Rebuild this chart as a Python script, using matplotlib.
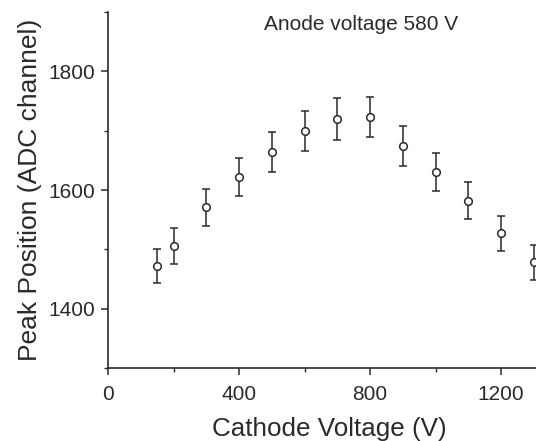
import matplotlib
matplotlib.use("Agg")
import matplotlib.pyplot as plt
from matplotlib.ticker import MultipleLocator

# Peak position vs cathode voltage, anode held at 580 V
cathode_v = [150, 200, 300, 400, 500, 600, 700, 800, 900, 1000, 1100, 1200, 1300]
peak_pos = [1472, 1506, 1571, 1622, 1664, 1699, 1720, 1723, 1674, 1631, 1582, 1527, 1478]
peak_err = [29, 30, 31, 32, 34, 34, 35, 34, 34, 32, 31, 30, 30]

x_ticks = [0, 400, 800, 1200]
y_ticks = [1400, 1600, 1800]

plt.rcParams["font.family"] = ["Liberation Sans", "DejaVu Sans"]
ink = "#2a2a2a"

fig = plt.figure(figsize=(5.36, 4.41), dpi=100)
ax = fig.add_axes([108 / 536, 73 / 441, 458.5 / 536, 356 / 441])

ax.errorbar(cathode_v, peak_pos, yerr=peak_err, fmt="o", ms=5.5, mfc="white",
            mec=ink, mew=1.1, ecolor=ink, elinewidth=1.1, capsize=3, capthick=1.1,
            clip_on=False)

ax.set_xlim(0, 1400)
ax.set_ylim(1300, 1900)
ax.set_xticks(x_ticks)
ax.set_yticks(y_ticks)
ax.xaxis.set_minor_locator(MultipleLocator(200))
ax.yaxis.set_minor_locator(MultipleLocator(100))

for side in ("top", "right"):
    ax.spines[side].set_visible(False)
for side in ("left", "bottom"):
    ax.spines[side].set_color(ink)
    ax.spines[side].set_linewidth(1.2)

ax.tick_params(which="major", direction="out", length=5, width=1.1, color=ink,
               labelsize=15, labelcolor=ink)
ax.tick_params(axis="x", which="major", pad=7)
ax.tick_params(axis="y", which="major", pad=4)
ax.tick_params(which="minor", direction="out", length=3, width=1.0, color=ink)

ax.set_xlabel("Cathode Voltage (V)", fontsize=18.7, color=ink)
ax.set_ylabel("Peak Position (ADC channel)", fontsize=19, color=ink)
ax.xaxis.set_label_coords((329.5 - 108) / 458.5, -49 / 356)
ax.yaxis.set_label_coords(-(108 - 18) / 458.5, 0.5)
ax.yaxis.label.set_va("top")

ax.text(361 / 536, 1 - 25 / 441, "Anode voltage 580 V", transform=fig.transFigure,
        ha="center", va="center", fontsize=15, color=ink)

fig.savefig("out.png", dpi=100)
